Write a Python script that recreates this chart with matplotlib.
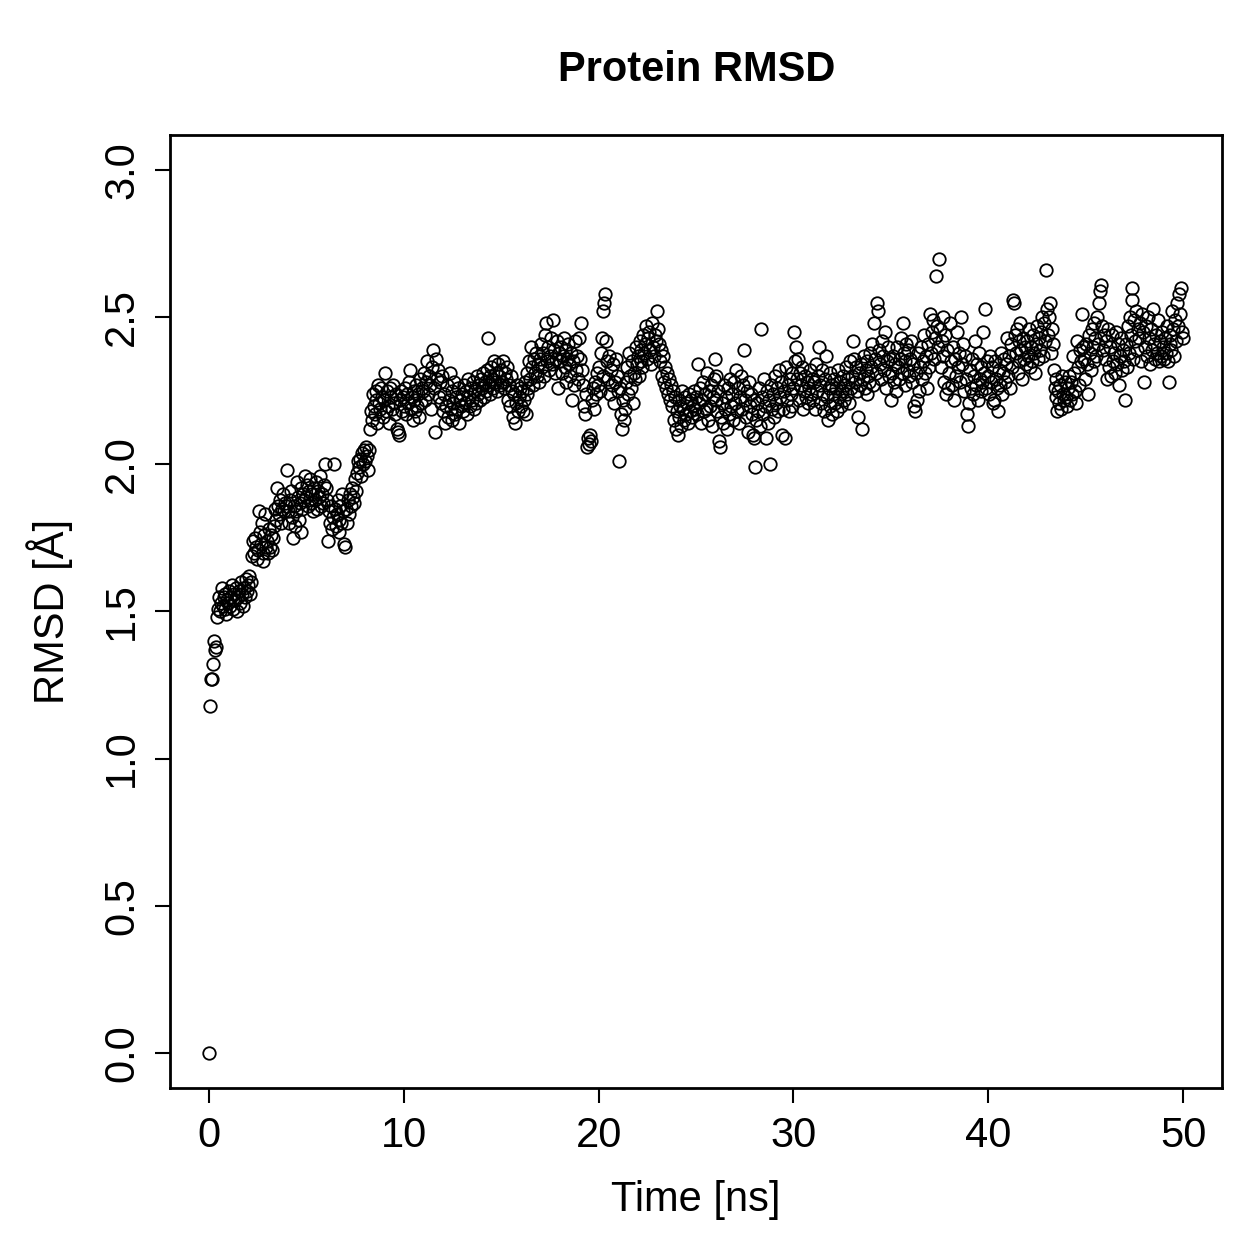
import numpy as np
import matplotlib.pyplot as plt

plt.rcParams['font.family'] = ['Liberation Sans', 'DejaVu Sans']

# RMSD [A], one value every 0.05 ns, one row per ns
rmsd_blocks = [
    [0.00, 1.18, 1.27, 1.27, 1.32, 1.40, 1.37, 1.38, 1.48, 1.51, 1.55, 1.50, 1.53, 1.58, 1.52, 1.55, 1.51, 1.56, 1.49, 1.54],
    [1.53, 1.57, 1.52, 1.55, 1.59, 1.51, 1.56, 1.54, 1.58, 1.50, 1.55, 1.57, 1.53, 1.60, 1.56, 1.52, 1.58, 1.55, 1.61, 1.57],
    [1.59, 1.62, 1.56, 1.60, 1.69, 1.74, 1.70, 1.75, 1.72, 1.68, 1.71, 1.84, 1.77, 1.73, 1.80, 1.70, 1.67, 1.76, 1.83, 1.72],
    [1.74, 1.70, 1.78, 1.72, 1.76, 1.71, 1.75, 1.79, 1.85, 1.81, 1.92, 1.86, 1.83, 1.88, 1.80, 1.85, 1.90, 1.84, 1.87, 1.86],
    [1.98, 1.84, 1.80, 1.88, 1.91, 1.82, 1.75, 1.86, 1.79, 1.84, 1.94, 1.89, 1.81, 1.87, 1.77, 1.92, 1.85, 1.90, 1.88, 1.96],
    [1.89, 1.93, 1.86, 1.91, 1.95, 1.87, 1.90, 1.84, 1.92, 1.88, 1.94, 1.85, 1.91, 1.89, 1.96, 1.86, 1.90, 1.87, 1.93, 2.00],
    [1.92, 1.88, 1.74, 1.84, 1.80, 1.86, 1.78, 1.82, 2.00, 1.85, 1.79, 1.83, 1.88, 1.81, 1.77, 1.86, 1.80, 1.90, 1.84, 1.73],
    [1.72, 1.85, 1.80, 1.88, 1.83, 1.90, 1.86, 1.92, 1.89, 1.87, 1.95, 1.91, 1.97, 2.01, 1.99, 2.02, 1.96, 2.04, 2.00, 2.05],
    [2.01, 2.06, 2.03, 1.98, 2.05, 2.12, 2.18, 2.15, 2.24, 2.20, 2.17, 2.25, 2.22, 2.14, 2.27, 2.21, 2.19, 2.26, 2.23, 2.16],
    [2.22, 2.31, 2.18, 2.25, 2.20, 2.14, 2.26, 2.23, 2.19, 2.27, 2.21, 2.17, 2.24, 2.12, 2.11, 2.10, 2.22, 2.25, 2.18, 2.23],
    [2.20, 2.26, 2.17, 2.24, 2.21, 2.28, 2.32, 2.19, 2.23, 2.15, 2.25, 2.22, 2.18, 2.27, 2.20, 2.24, 2.16, 2.29, 2.21, 2.26],
    [2.25, 2.31, 2.22, 2.28, 2.35, 2.24, 2.30, 2.27, 2.19, 2.33, 2.39, 2.26, 2.11, 2.36, 2.29, 2.32, 2.23, 2.28, 2.21, 2.30],
    [2.18, 2.24, 2.14, 2.20, 2.27, 2.16, 2.22, 2.31, 2.19, 2.25, 2.15, 2.21, 2.28, 2.17, 2.23, 2.19, 2.26, 2.14, 2.22, 2.20],
    [2.24, 2.18, 2.27, 2.21, 2.25, 2.17, 2.29, 2.23, 2.20, 2.26, 2.22, 2.28, 2.19, 2.25, 2.21, 2.30, 2.24, 2.27, 2.22, 2.29],
    [2.26, 2.31, 2.23, 2.28, 2.25, 2.32, 2.43, 2.27, 2.30, 2.24, 2.33, 2.29, 2.26, 2.35, 2.28, 2.31, 2.25, 2.34, 2.30, 2.27],
    [2.32, 2.28, 2.35, 2.26, 2.31, 2.29, 2.33, 2.22, 2.27, 2.20, 2.30, 2.25, 2.16, 2.24, 2.14, 2.21, 2.27, 2.18, 2.23, 2.26],
    [2.20, 2.25, 2.18, 2.22, 2.28, 2.17, 2.24, 2.31, 2.26, 2.35, 2.29, 2.40, 2.33, 2.27, 2.36, 2.31, 2.38, 2.30, 2.34, 2.28],
    [2.36, 2.41, 2.33, 2.38, 2.30, 2.44, 2.48, 2.35, 2.40, 2.32, 2.37, 2.43, 2.34, 2.49, 2.39, 2.31, 2.36, 2.42, 2.26, 2.38],
    [2.35, 2.40, 2.31, 2.37, 2.43, 2.33, 2.39, 2.28, 2.36, 2.41, 2.34, 2.30, 2.38, 2.22, 2.35, 2.27, 2.42, 2.32, 2.37, 2.29],
    [2.43, 2.36, 2.48, 2.32, 2.27, 2.20, 2.17, 2.24, 2.06, 2.09, 2.07, 2.10, 2.08, 2.22, 2.26, 2.19, 2.28, 2.24, 2.31, 2.27],
    [2.33, 2.25, 2.38, 2.43, 2.30, 2.52, 2.55, 2.58, 2.42, 2.35, 2.29, 2.37, 2.24, 2.32, 2.27, 2.34, 2.21, 2.28, 2.36, 2.30],
    [2.25, 2.01, 2.26, 2.17, 2.12, 2.22, 2.15, 2.19, 2.28, 2.33, 2.24, 2.38, 2.30, 2.26, 2.35, 2.21, 2.31, 2.29, 2.40, 2.34],
    [2.37, 2.30, 2.42, 2.35, 2.39, 2.33, 2.44, 2.38, 2.41, 2.47, 2.36, 2.43, 2.45, 2.39, 2.34, 2.48, 2.40, 2.37, 2.44, 2.42],
    [2.52, 2.46, 2.41, 2.35, 2.39, 2.30, 2.37, 2.28, 2.33, 2.26, 2.31, 2.24, 2.29, 2.22, 2.27, 2.20, 2.25, 2.15, 2.23, 2.12],
    [2.18, 2.10, 2.22, 2.16, 2.20, 2.13, 2.25, 2.19, 2.15, 2.23, 2.17, 2.21, 2.14, 2.24, 2.18, 2.22, 2.16, 2.20, 2.25, 2.19],
    [2.23, 2.17, 2.34, 2.21, 2.26, 2.14, 2.22, 2.28, 2.18, 2.24, 2.19, 2.31, 2.15, 2.25, 2.20, 2.27, 2.13, 2.23, 2.29, 2.36],
    [2.22, 2.30, 2.18, 2.25, 2.08, 2.06, 2.16, 2.21, 2.14, 2.27, 2.19, 2.23, 2.12, 2.26, 2.17, 2.29, 2.20, 2.24, 2.15, 2.28],
    [2.21, 2.32, 2.18, 2.26, 2.14, 2.23, 2.30, 2.19, 2.27, 2.39, 2.22, 2.16, 2.25, 2.11, 2.28, 2.20, 2.24, 2.17, 2.10, 2.22],
    [2.09, 1.99, 2.15, 2.21, 2.18, 2.26, 2.13, 2.46, 2.23, 2.17, 2.29, 2.20, 2.09, 2.25, 2.14, 2.22, 2.00, 2.27, 2.19, 2.24],
    [2.16, 2.30, 2.21, 2.26, 2.18, 2.32, 2.23, 2.28, 2.10, 2.19, 2.25, 2.09, 2.33, 2.22, 2.27, 2.18, 2.29, 2.24, 2.31, 2.20],
    [2.26, 2.45, 2.35, 2.40, 2.29, 2.36, 2.22, 2.31, 2.27, 2.33, 2.19, 2.25, 2.30, 2.23, 2.28, 2.21, 2.26, 2.32, 2.24, 2.29],
    [2.22, 2.28, 2.19, 2.34, 2.25, 2.30, 2.40, 2.27, 2.21, 2.32, 2.24, 2.18, 2.29, 2.37, 2.23, 2.15, 2.26, 2.31, 2.20, 2.27],
    [2.17, 2.24, 2.29, 2.21, 2.26, 2.18, 2.32, 2.23, 2.28, 2.20, 2.25, 2.30, 2.22, 2.27, 2.33, 2.24, 2.29, 2.21, 2.35, 2.26],
    [2.30, 2.42, 2.36, 2.28, 2.33, 2.25, 2.16, 2.31, 2.27, 2.34, 2.12, 2.29, 2.37, 2.26, 2.32, 2.24, 2.35, 2.30, 2.28, 2.38],
    [2.33, 2.41, 2.27, 2.48, 2.36, 2.31, 2.55, 2.52, 2.39, 2.34, 2.29, 2.42, 2.37, 2.32, 2.45, 2.26, 2.35, 2.40, 2.30, 2.36],
    [2.22, 2.31, 2.37, 2.28, 2.34, 2.25, 2.40, 2.33, 2.29, 2.36, 2.43, 2.31, 2.48, 2.38, 2.27, 2.35, 2.41, 2.32, 2.39, 2.30],
    [2.36, 2.42, 2.28, 2.34, 2.20, 2.18, 2.31, 2.22, 2.38, 2.25, 2.33, 2.40, 2.29, 2.35, 2.44, 2.31, 2.37, 2.26, 2.41, 2.33],
    [2.51, 2.38, 2.45, 2.49, 2.36, 2.43, 2.64, 2.47, 2.40, 2.70, 2.46, 2.33, 2.42, 2.37, 2.50, 2.28, 2.44, 2.24, 2.39, 2.26],
    [2.31, 2.48, 2.35, 2.27, 2.40, 2.22, 2.36, 2.30, 2.45, 2.33, 2.38, 2.28, 2.50, 2.34, 2.41, 2.25, 2.37, 2.29, 2.17, 2.13],
    [2.21, 2.32, 2.26, 2.36, 2.24, 2.30, 2.42, 2.27, 2.34, 2.22, 2.38, 2.29, 2.25, 2.33, 2.28, 2.45, 2.31, 2.53, 2.26, 2.35],
    [2.30, 2.24, 2.37, 2.28, 2.33, 2.21, 2.22, 2.35, 2.29, 2.26, 2.18, 2.32, 2.27, 2.38, 2.24, 2.31, 2.36, 2.28, 2.34, 2.43],
    [2.30, 2.37, 2.26, 2.41, 2.33, 2.56, 2.55, 2.44, 2.38, 2.46, 2.31, 2.42, 2.35, 2.48, 2.39, 2.29, 2.43, 2.36, 2.40, 2.34],
    [2.42, 2.37, 2.46, 2.33, 2.40, 2.35, 2.44, 2.38, 2.31, 2.41, 2.47, 2.36, 2.43, 2.39, 2.45, 2.50, 2.37, 2.48, 2.42, 2.66],
    [2.53, 2.44, 2.50, 2.55, 2.38, 2.46, 2.41, 2.32, 2.26, 2.23, 2.29, 2.18, 2.25, 2.21, 2.27, 2.19, 2.30, 2.24, 2.22, 2.28],
    [2.23, 2.20, 2.26, 2.30, 2.22, 2.28, 2.24, 2.37, 2.31, 2.25, 2.21, 2.42, 2.33, 2.27, 2.39, 2.35, 2.51, 2.40, 2.36, 2.29],
    [2.41, 2.34, 2.24, 2.44, 2.38, 2.32, 2.46, 2.40, 2.35, 2.48, 2.43, 2.37, 2.50, 2.41, 2.55, 2.59, 2.61, 2.47, 2.39, 2.44],
    [2.36, 2.42, 2.29, 2.46, 2.33, 2.40, 2.30, 2.44, 2.35, 2.38, 2.31, 2.45, 2.34, 2.41, 2.27, 2.37, 2.43, 2.32, 2.39, 2.35],
    [2.22, 2.41, 2.33, 2.47, 2.38, 2.50, 2.44, 2.60, 2.56, 2.36, 2.49, 2.42, 2.52, 2.39, 2.46, 2.43, 2.48, 2.35, 2.51, 2.45],
    [2.28, 2.40, 2.47, 2.37, 2.50, 2.43, 2.34, 2.46, 2.39, 2.53, 2.41, 2.36, 2.44, 2.38, 2.49, 2.35, 2.42, 2.37, 2.45, 2.40],
    [2.36, 2.43, 2.38, 2.47, 2.35, 2.28, 2.41, 2.44, 2.39, 2.52, 2.46, 2.37, 2.49, 2.42, 2.55, 2.47, 2.58, 2.51, 2.60, 2.45],
    [2.43],
]
frame_step_ns = 0.05

rmsd = np.concatenate([np.array(b) for b in rmsd_blocks])
time_ns = np.arange(len(rmsd)) * frame_step_ns

fig = plt.figure(figsize=(12.59, 12.59), dpi=100)
ax = fig.add_axes([0.135, 0.1358, 0.8357, 0.757])

ax.plot(time_ns, rmsd, linestyle='none', marker='o', markersize=9,
        markerfacecolor='none', markeredgecolor='black', markeredgewidth=1.3)

ax.set_xlim(-2, 52)
ax.set_ylim(-0.12, 3.12)
ax.set_xticks([0, 10, 20, 30, 40, 50])
ax.set_yticks([0.0, 0.5, 1.0, 1.5, 2.0, 2.5, 3.0])
ax.set_yticklabels(['0.0', '0.5', '1.0', '1.5', '2.0', '2.5', '3.0'],
                   rotation=90, va='center')
ax.tick_params(direction='out', length=11, width=1.5, labelsize=30, pad=9)

for s in ax.spines.values():
    s.set_linewidth(2)

fig.text(0.553, 1 - 70 / 1259, 'Protein RMSD', fontsize=30, fontweight='bold',
         ha='center', va='center')
ax.set_xlabel('Time [ns]', fontsize=30, va='center')
ax.xaxis.set_label_coords(0.5, (59 - 171) / 952)
ax.set_ylabel('RMSD [Å]', fontsize=30, va='center')
ax.yaxis.set_label_coords((50 - 170) / 1052, 0.5)

fig.savefig('out.png', dpi=100)
